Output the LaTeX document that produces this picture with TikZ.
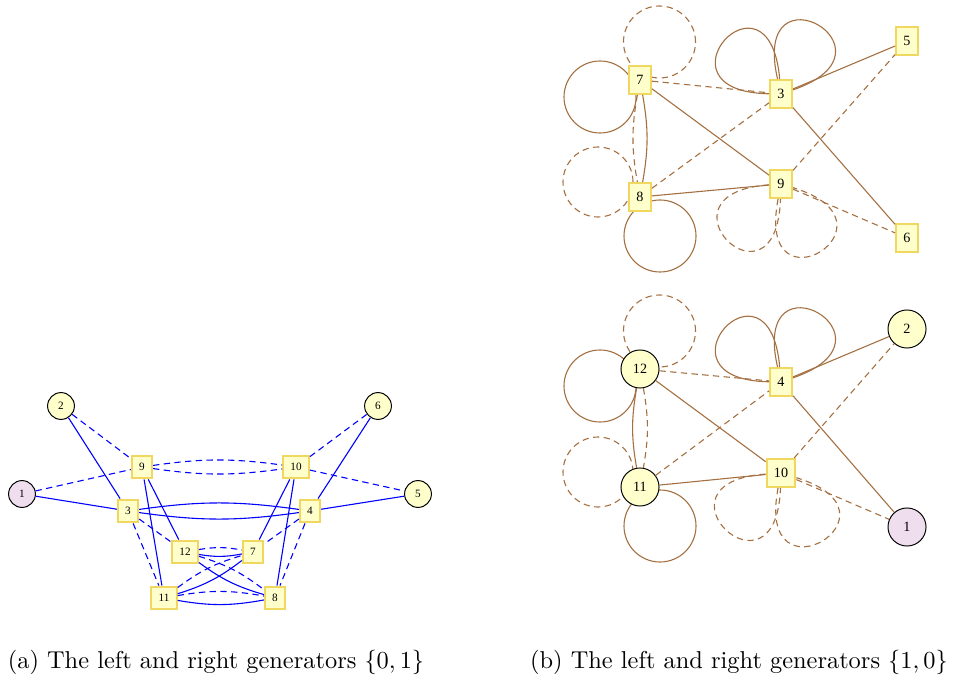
\documentclass[tikz,border=0pt]{standalone}
\usepackage{amsmath, tkz-euclide, tikz, xcolor, fontspec}
\usetikzlibrary{arrows.meta, calc, backgrounds}
\newfontfamily\labelfont{Liberation Serif}
\definecolor{nodefill}{RGB}{255,255,204}
\definecolor{sqborder}{RGB}{240,216,96}
\definecolor{rootfill}{RGB}{238,222,238}
\definecolor{edgebrown}{RGB}{165,112,65}
\tikzset{sqnode/.style = {draw = sqborder, fill = nodefill, line width = 0.8pt, inner xsep = 3pt, inner ysep = 2pt, minimum width = 7.8pt, minimum height = 9.4pt, font = \labelfont\fontsize{4.6}{5}\selectfont}}
\tikzset{cnode/.style = {circle, draw, fill = nodefill, line width = 0.4pt, inner sep = 0pt, minimum size = 11pt, font = \labelfont\fontsize{4.6}{5}\selectfont}}
\tikzset{sqbnode/.style = {sqnode, minimum width = 9pt, minimum height = 11.5pt, font = \labelfont\fontsize{5.8}{6}\selectfont}}
\tikzset{cbnode/.style = {cnode, minimum size = 15.6pt, font = \labelfont\fontsize{5.8}{6}\selectfont}}
\tikzset{rootnode/.style = {fill = rootfill}}
\tikzset{gl/.style = {line width = 0.45pt}}
\tikzset{gr/.style = {line width = 0.45pt, dash pattern = on 2.6pt off 1.8pt}}
\tikzset{petal/.style = {min distance = 50pt}}

\begin{document}
\begin{tikzpicture}[x = 0.41pt, y = 0.41pt]
\useasboundingbox (0,0) rectangle (954,681);
\tkzDefPoints{22/187/L1, 61/275/L2, 128/170/L3, 310/170/L4, 418/187/L5, 378/275/L6,
  253/129/L7, 275/83/L8, 142/214/L9, 296/214/L10, 164/83/L11, 185/129/L12}
\tkzDefPoints{640/601/T7, 781/587/T3, 907/640/T5, 640/484/T8, 781/497/T9, 907/443/T6}
\tkzDefPoints{640/312/B12, 781/299/B4, 907/352/B2, 640/194/B11, 781/208/B10, 907/154/B1}

\node[cnode, rootnode] (l1) at (L1) {1};
\foreach \n in {2,5,6} \node[cnode] (l\n) at (L\n) {\n};
\foreach \n in {3,4,7,8,9,10,11,12} \node[sqnode] (l\n) at (L\n) {\n};

\foreach \n in {3,5,6,7,8,9} \node[sqbnode] (t\n) at (T\n) {\n};
\node[cbnode, rootnode] (b1) at (B1) {1};
\foreach \n in {2,11,12} \node[cbnode] (b\n) at (B\n) {\n};
\foreach \n in {4,10} \node[sqbnode] (b\n) at (B\n) {\n};

\begin{scope}[blue]
\foreach \u/\v in {1/3, 2/3, 4/5, 4/6, 9/11, 9/12, 10/7, 10/8} \draw[gl] (l\u) -- (l\v);
\foreach \u/\v in {1/9, 2/9, 10/5, 10/6, 3/12, 3/11, 4/7, 4/8} \draw[gr] (l\u) -- (l\v);
\draw[gl] (l3) to[bend left = 8] (l4);
\draw[gl] (l3) to[bend right = 8] (l4);
\draw[gr] (l9) to[bend left = 8] (l10);
\draw[gr] (l9) to[bend right = 8] (l10);
\foreach \u/\v in {12/7, 12/8, 11/7, 11/8} {
  \draw[gr] (l\u) to[bend left = 10] (l\v);
  \draw[gl] (l\u) to[bend right = 10] (l\v);
}
\end{scope}

\begin{scope}[edgebrown]
\foreach \u/\v in {3/5, 3/6, 7/9, 8/9} \draw[gl] (t\u) -- (t\v);
\foreach \u/\v in {7/3, 8/3, 9/5, 9/6} \draw[gr] (t\u) -- (t\v);
\draw[gl] (t7) to[bend left = 10] (t8);
\draw[gr] (t7) to[bend right = 10] (t8);
\draw[gl, petal] (t3) to[out = 95, in = 179] (t3);
\draw[gl, petal] (t3) to[out = 19, in = 103] (t3);
\draw[gr, petal] (t9) to[out = 184, in = 268] (t9);
\draw[gr, petal] (t9) to[out = 259, in = 343] (t9);

\foreach \u/\v in {4/2, 4/1, 12/10, 11/10} \draw[gl] (b\u) -- (b\v);
\foreach \u/\v in {12/4, 11/4, 10/2, 10/1} \draw[gr] (b\u) -- (b\v);
\draw[gl] (b12) to[bend right = 10] (b11);
\draw[gr] (b12) to[bend left = 10] (b11);
\draw[gl, petal] (b4) to[out = 95, in = 179] (b4);
\draw[gl, petal] (b4) to[out = 19, in = 103] (b4);
\draw[gr, petal] (b10) to[out = 184, in = 268] (b10);
\draw[gr, petal] (b10) to[out = 259, in = 343] (b10);
\end{scope}

\begin{scope}[on background layer]
\foreach \a in {t7, b12} {
  \draw[gl, edgebrown] ($(\a)+(-40,-17)$) circle[radius = 36];
  \draw[gr, edgebrown] ($(\a)+(19.5,38)$) circle[radius = 36];
}
\foreach \a in {t8, b11} {
  \draw[gr, edgebrown] ($(\a)+(-42,15)$) circle[radius = 35];
  \draw[gl, edgebrown] ($(\a)+(20,-39)$) circle[radius = 36];
}
\end{scope}

\node[anchor = base] (capa) at (216,13) {(a) The left and right generators $\{0,1\}$};
\node[anchor = base] (capb) at (739,13) {(b) The left and right generators $\{1,0\}$};
\end{tikzpicture}
\end{document}
